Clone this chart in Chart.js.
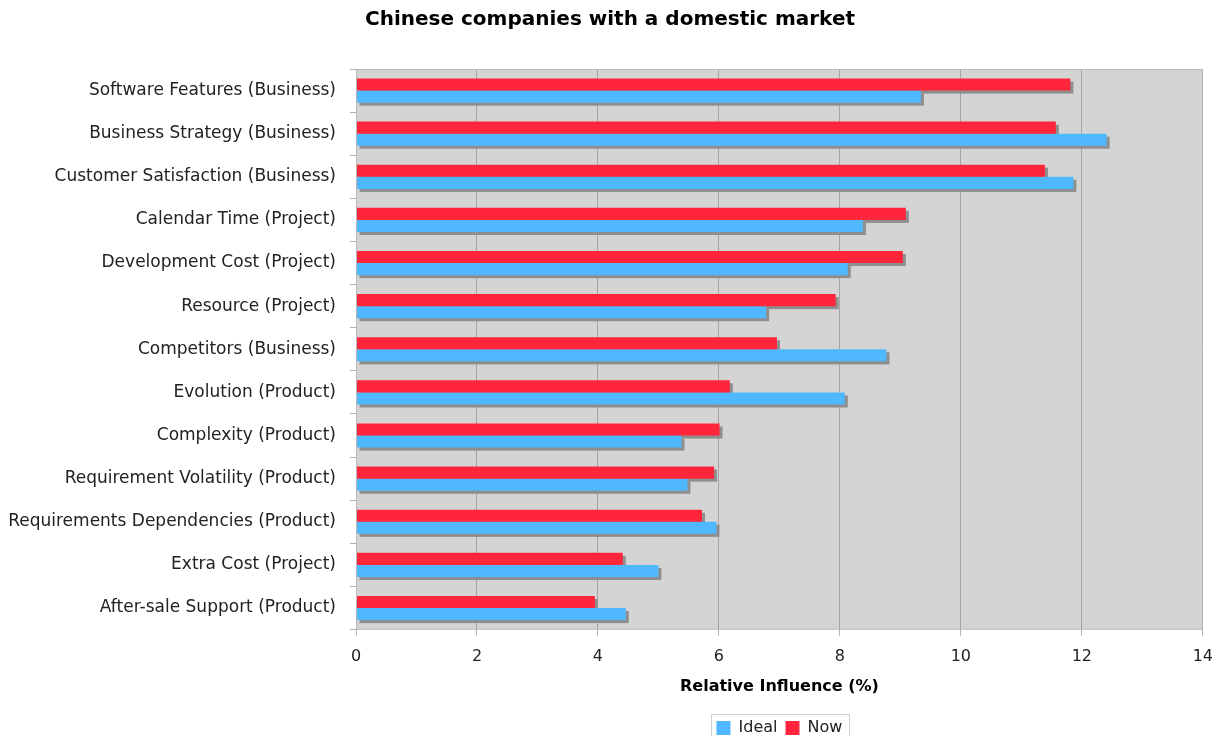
<!DOCTYPE html>
<html>
<head>
<meta charset="utf-8">
<script src="https://cdn.jsdelivr.net/npm/chart.js@4"></script>
<style>
html,body{margin:0;padding:0;background:#fff;}
#wrap{width:1225px;height:736px;position:relative;}
</style>
</head>
<body>
<div id="wrap"><canvas id="c" width="1225" height="736"></canvas></div>
<script>
const categories = [
  "Software Features (Business)",
  "Business Strategy (Business)",
  "Customer Satisfaction (Business)",
  "Calendar Time (Project)",
  "Development Cost (Project)",
  "Resource (Project)",
  "Competitors (Business)",
  "Evolution (Product)",
  "Complexity (Product)",
  "Requirement Volatility (Product)",
  "Requirements Dependencies (Product)",
  "Extra Cost (Project)",
  "After-sale Support (Product)"
];
const nowValues   = [11.81, 11.57, 11.39, 9.09, 9.04, 7.93, 6.96, 6.18, 6.01, 5.92, 5.72, 4.41, 3.95];
const idealValues = [9.34, 12.41, 11.86, 8.38, 8.13, 6.78, 8.77, 8.08, 5.38, 5.48, 5.96, 5.00, 4.46];
const xTicks = [0, 2, 4, 6, 8, 10, 12, 14];

const FONT = "'DejaVu Sans', Verdana, sans-serif";

const plotBg = {
  id: 'plotBg',
  beforeDraw(chart) {
    const {ctx, chartArea: a} = chart;
    ctx.save();
    ctx.fillStyle = '#d4d4d4';
    ctx.fillRect(a.left, a.top, a.right - a.left, a.bottom - a.top);
    ctx.restore();
    const lg = chart.legend;
    if (lg && !lg._shifted) {
      const dx = (a.left + a.right) / 2 - (lg.left + lg.right) / 2;
      const dy = 10;
      lg.left += dx; lg.right += dx; lg.top += dy; lg.bottom += dy;
      if (lg.legendHitBoxes) lg.legendHitBoxes.forEach(h => { h.left += dx; h.top += dy; });
      lg._shifted = true;
    }
    const tb = chart.titleBlock;
    if (tb && !tb._shifted) {
      tb.left += 5; tb.right += 5;
      tb._shifted = true;
    }
  },
  afterDraw(chart) {
    const {ctx, chartArea: a} = chart;
    ctx.save();
    ctx.strokeStyle = '#b8b8b8';
    ctx.lineWidth = 1;
    ctx.strokeRect(a.left + 0.5, a.top + 0.5, a.right - a.left - 1, a.bottom - a.top - 1);
    const lg = chart.legend;
    if (lg && lg.legendHitBoxes && lg.legendHitBoxes.length) {
      const hb = lg.legendHitBoxes;
      const x0 = hb[0].left - 6, x1 = hb[hb.length - 1].left + hb[hb.length - 1].width + 6;
      const y0 = hb[0].top - 6;
      ctx.strokeStyle = '#d0d0d0';
      ctx.strokeRect(Math.round(x0) + 0.5, Math.round(y0) + 0.5, Math.round(x1 - x0), 40);
    }
    ctx.restore();
  }
};

const barShadow = {
  id: 'barShadow',
  beforeDatasetsDraw(chart) {
    const {ctx} = chart;
    ctx.save();
    ctx.fillStyle = '#8e8e8e';
    chart.data.datasets.forEach((ds, i) => {
      const meta = chart.getDatasetMeta(i);
      meta.data.forEach(el => {
        const p = el.getProps(['x', 'y', 'base', 'height'], true);
        const l = Math.min(p.x, p.base), r = Math.max(p.x, p.base);
        ctx.fillRect(l + 3, p.y - p.height / 2 + 3, r - l, p.height);
      });
    });
    ctx.restore();
  }
};

new Chart(document.getElementById('c'), {
  type: 'bar',
  data: {
    labels: categories,
    datasets: [
      { label: 'Now', data: nowValues, backgroundColor: '#ff263c', borderWidth: 0 },
      { label: 'Ideal', data: idealValues, backgroundColor: '#50b8ff', borderWidth: 0 }
    ]
  },
  options: {
    indexAxis: 'y',
    responsive: false,
    animation: false,
    devicePixelRatio: 1,
    datasets: { bar: { categoryPercentage: 0.56, barPercentage: 1.0 } },
    layout: { padding: { left: 0, right: 15, top: 0, bottom: 0 } },
    plugins: {
      title: {
        display: true,
        text: 'Chinese companies with a domestic market',
        color: '#000',
        font: { family: FONT, size: 20, weight: 'bold' },
        padding: { top: 8, bottom: 37 }
      },
      legend: {
        position: 'bottom',
        reverse: true,
        labels: {
          color: '#222',
          font: { family: FONT, size: 16 },
          boxWidth: 14,
          boxHeight: 14,
          padding: 8
        }
      },
      tooltip: { enabled: false }
    },
    scales: {
      x: {
        type: 'linear',
        min: 0,
        max: 14,
        afterBuildTicks(scale) { scale.ticks = xTicks.map(v => ({ value: v })); },
        ticks: {
          color: '#222',
          font: { family: FONT, size: 16 },
          padding: 12
        },
        grid: {
          color: '#a4a4a4',
          lineWidth: 1,
          drawTicks: true,
          tickLength: 6,
          tickColor: '#b0b0b0'
        },
        border: { display: false },
        title: {
          display: true,
          text: 'Relative Influence (%)',
          color: '#000',
          font: { family: FONT, size: 16, weight: 'bold' },
          padding: { top: -2, bottom: 6 }
        }
      },
      y: {
        afterFit(scale) { scale.width = 356; },
        ticks: {
          color: '#222',
          font: { family: FONT, size: 17 },
          padding: 14
        },
        grid: {
          offset: true,
          drawOnChartArea: false,
          drawTicks: true,
          tickLength: 6,
          tickColor: '#b0b0b0'
        },
        border: { display: false }
      }
    }
  },
  plugins: [plotBg, barShadow]
});
</script>
</body>
</html>
